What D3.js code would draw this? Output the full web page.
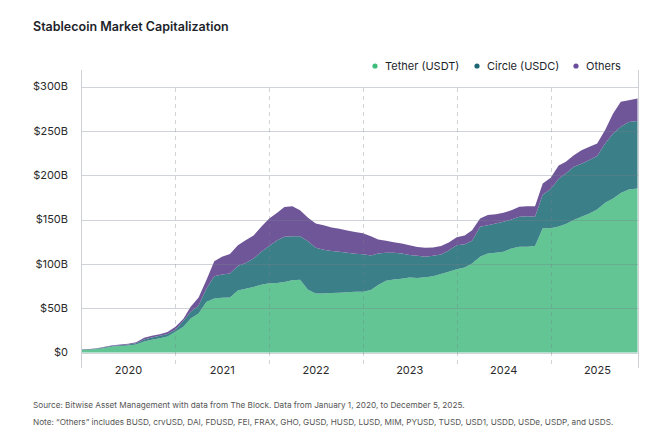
<!DOCTYPE html>
<html>
<head>
<meta charset="utf-8" />
<script src="https://d3js.org/d3.v7.min.js"></script>
<style>
  body { margin: 0; background: #fff; }
  svg { font-family: Inter, "Noto Sans", sans-serif; }
  .grid { stroke: rgb(120,130,140); stroke-opacity: 0.35; fill: none; }
  .frame { stroke: #cdd1d6; fill: none; }
  .tick-label { font-size: 11px; fill: #2a2a2a; }
  .note { font-size: 8.2px; fill: #555; }
</style>
</head>
<body>
<svg width="664" height="441"></svg>
<script>
// values in $B, first of each month Jan 2020 .. Nov 2025, then Dec 5 2025
var usdt = [3.0, 3.2, 4.0, 5.2, 6.8, 7.3, 7.8, 9.0, 12.5, 14.5, 16.0, 18.0,
            23.3, 29, 38.4, 44, 57, 61, 61.8, 62, 70, 71.8, 74, 76.5,
            78, 78.4, 79.5, 81.5, 82, 70.7, 66.5, 66.5, 67, 67.5, 68, 68.5,
            68.6, 70.4, 76, 81, 82.4, 83.2, 84.6, 84, 85, 86, 88.5, 91,
            94, 96, 100.4, 108, 111.7, 112.4, 113.5, 117.3, 119.2, 119.2, 120, 140,
            140, 142, 144.8, 149.3, 153, 156.8, 161.3, 168.8, 173.7, 180, 183.9, 185];
var usdc = [0.4, 0.4, 0.5, 0.7, 0.9, 1.0, 1.2, 1.5, 2.2, 2.5, 2.8, 3.0,
            2.7, 6.7, 7.6, 9, 15, 25, 26.2, 27, 27.5, 29.2, 32, 37,
            42, 48.3, 51, 49.5, 49, 54.9, 51.5, 49.5, 47.5, 46, 44.5, 43,
            42.1, 39.1, 35.7, 31.5, 30.1, 28.5, 25.4, 25, 23, 23, 22, 24,
            27, 26, 25.6, 33.8, 31.9, 33.1, 33.9, 32.7, 33.8, 34.6, 33, 38,
            44.4, 54, 57.2, 60.1, 60, 60.2, 60.2, 67, 73.3, 74.5, 76.1, 76];
var others = [0.3, 0.3, 0.4, 0.5, 0.6, 0.7, 0.8, 1.2, 1.8, 1.8, 1.9, 2.0,
              3, 2.3, 5.5, 9, 9.6, 17, 20, 22, 23.5, 25.7, 26, 28.3,
              31, 30.8, 33.5, 34, 29.5, 26.4, 27.5, 27.5, 26.5, 26, 25, 24.5,
              23.7, 21.5, 15.7, 13.5, 11.9, 11.3, 11, 10, 10, 9.5, 9.5, 9,
              9, 10, 12, 9.2, 11.4, 10.5, 10.1, 10.5, 11.3, 11.2, 12, 12.6,
              12.6, 15, 13, 13.2, 15, 15, 14.3, 15, 22.6, 28.3, 24.6, 25.5];
var years = [2020, 2021, 2022, 2023, 2024, 2025];
var yTicks = [0, 50, 100, 150, 200, 250, 300];
var keys = ["usdt", "usdc", "others"];
var labels = ["Tether (USDT)", "Circle (USDC)", "Others"];
var fills = ["#62c593", "#3b7f88", "#6f5699"];
var dots = ["#3fbb7a", "#1f6675", "#6a4d9d"];

var dates = d3.timeMonth.range(new Date(2020, 0, 1), new Date(2025, 11, 1));
dates.push(new Date(2025, 11, 5));

var rows = dates.map(function(d, i) {
  return { date: d, usdt: usdt[i], usdc: usdc[i], others: others[i] };
});

var svg = d3.select("svg");
var start = new Date(2020, 0, 1), end = new Date(2025, 11, 5);
var x = d3.scaleTime().domain([start, end]).range([81.5, 637.5]);
var y = d3.scaleLinear().domain([0, 300]).range([352.5, 86.5]);

// title
svg.append("text").attr("x", 33).attr("y", 31)
  .style("font-size", "12.5px").style("font-weight", 600).style("fill", "#1d1f2b")
  .text("Stablecoin Market Capitalization");

// stacked areas
var series = d3.stack().keys(keys)(rows);
var area = d3.area()
  .x(function(d) { return x(d.data.date); })
  .y0(function(d) { return y(d[0]); })
  .y1(function(d) { return y(d[1]); });

svg.append("g").selectAll("path").data(series).enter().append("path")
  .attr("d", area)
  .attr("fill", function(d, i) { return fills[i]; });

// horizontal grid (over the areas, semi transparent)
svg.append("g").selectAll("line").data(yTicks).enter().append("line")
  .attr("class", "grid")
  .attr("x1", 81).attr("x2", 638)
  .attr("y1", function(d) { return Math.round(y(d)) + 0.5; })
  .attr("y2", function(d) { return Math.round(y(d)) + 0.5; });

// year boundaries, dashed
svg.append("g").selectAll("line").data(years.slice(1)).enter().append("line")
  .attr("class", "grid")
  .attr("stroke-dasharray", "4,4")
  .attr("x1", function(d) { return Math.round(x(new Date(d, 0, 1))) + 0.5; })
  .attr("x2", function(d) { return Math.round(x(new Date(d, 0, 1))) + 0.5; })
  .attr("y1", 88).attr("y2", 368);

// frame sides
svg.append("line").attr("class", "frame").attr("x1", 81.5).attr("x2", 81.5).attr("y1", 70).attr("y2", 368);
svg.append("line").attr("class", "frame").attr("x1", 638.5).attr("x2", 638.5).attr("y1", 70).attr("y2", 368);

// y labels
svg.append("g").selectAll("text").data(yTicks).enter().append("text")
  .attr("class", "tick-label")
  .attr("x", 68).attr("y", function(d) { return y(d); })
  .attr("dy", "0.35em").attr("text-anchor", "end")
  .text(function(d) { return d === 0 ? "$0" : "$" + d + "B"; });

// x labels at mid-year
svg.append("g").selectAll("text").data(years).enter().append("text")
  .attr("class", "tick-label")
  .attr("x", function(d) { return x(new Date(d, 6, 2)); })
  .attr("y", 370).attr("dy", "0.35em").attr("text-anchor", "middle")
  .text(function(d) { return d; });

// legend
var legX = [375, 477, 576];
var leg = svg.append("g").selectAll("g").data(labels).enter().append("g")
  .attr("transform", function(d, i) { return "translate(" + legX[i] + ",66)"; });
leg.append("circle").attr("r", 2.6).attr("fill", function(d, i) { return dots[i]; });
leg.append("text").attr("x", 10).attr("dy", "0.35em")
  .style("font-size", "11px").style("fill", "#1d1f2b")
  .text(function(d) { return d; });

// notes
svg.append("text").attr("class", "note").attr("x", 33).attr("y", 408)
  .text("Source: Bitwise Asset Management with data from The Block. Data from January 1, 2020, to December 5, 2025.");
svg.append("text").attr("class", "note").attr("x", 33).attr("y", 425)
  .text("Note: \u201cOthers\u201d includes BUSD, crvUSD, DAI, FDUSD, FEI, FRAX, GHO, GUSD, HUSD, LUSD, MIM, PYUSD, TUSD, USD1, USDD, USDe, USDP, and USDS.");
</script>
</body>
</html>
